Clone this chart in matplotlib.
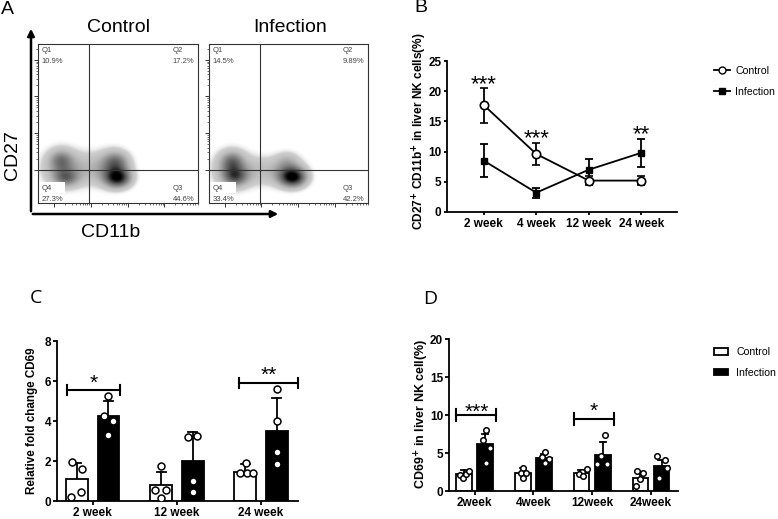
import numpy as np
import matplotlib
matplotlib.use("Agg")
import matplotlib.pyplot as plt
from matplotlib.patches import Rectangle, FancyArrowPatch
from matplotlib.lines import Line2D
from matplotlib.patches import Patch

plt.rcParams['font.family'] = ['Liberation Sans', 'DejaVu Sans']

W, H = 778, 519

# ---------------- Panel A data (flow density blobs: cx, cy, sx, sy, amp in axes fraction) -------------
flow_titles = ["Control", "Infection"]
ctrl_blobs = [(0.14, 0.22, 0.09, 0.09, 0.35),
              (0.31, 0.21, 0.09, 0.08, 0.22),
              (0.47, 0.22, 0.08, 0.08, 0.38),
              (0.50, 0.155, 0.058, 0.042, 0.75),
              (0.49, 0.26, 0.055, 0.045, 0.32),
              (0.175, 0.157, 0.055, 0.038, 0.40),
              (0.145, 0.27, 0.05, 0.045, 0.32)]
inf_blobs = [(0.14, 0.21, 0.09, 0.09, 0.35),
             (0.33, 0.20, 0.09, 0.07, 0.22),
             (0.50, 0.20, 0.08, 0.07, 0.32),
             (0.53, 0.16, 0.06, 0.043, 0.80),
             (0.49, 0.27, 0.05, 0.04, 0.14),
             (0.165, 0.165, 0.055, 0.042, 0.48),
             (0.145, 0.26, 0.05, 0.045, 0.37)]
ctrl_quads = ["10.9%", "17.2%", "44.6%", "27.3%"]
inf_quads = ["14.5%", "9.89%", "42.2%", "33.4%"]

# ---------------- Panel B data ----------------
weeks_B = ["2 week", "4 week", "12 week", "24 week"]
b_ctrl_mean = [17.7, 9.6, 5.2, 5.2]
b_ctrl_err = [2.9, 1.9, 0.7, 0.8]
b_inf_mean = [8.5, 3.2, 7.0, 9.8]
b_inf_err = [2.7, 0.8, 1.8, 2.35]
b_stars = ["***", "***", "", "**"]
b_star_y = [22.3, 13.3, 0, 14.0]

# ---------------- Panel C data ----------------
weeks_C = ["2 week", "12 week", "24 week"]
c_ctrl_mean = [1.1, 0.8, 1.47]
c_ctrl_err = [0.8, 0.63, 0.36]
c_inf_mean = [4.25, 2.0, 3.5]
c_inf_err = [0.75, 1.43, 1.65]
c_ctrl_pts = [[1.97, 1.6, 0.22, 0.47], [1.77, 0.55, 0.55, 0.13], [1.9, 1.4, 1.4, 1.4]]
c_inf_pts = [[5.27, 4.25, 4.0, 3.3], [3.18, 3.27, 1.0, 0.43], [5.58, 4.0, 2.43, 1.83]]
c_brackets = [(0, 5.55, "*", 6.2), (2, 5.88, "**", 6.6)]

# ---------------- Panel D data ----------------
weeks_D = ["2week", "4week", "12week", "24week"]
d_ctrl_mean = [2.24, 2.42, 2.33, 1.76]
d_ctrl_err = [0.5, 0.55, 0.4, 0.8]
d_inf_mean = [6.15, 4.3, 4.75, 3.34]
d_inf_err = [1.4, 0.6, 1.7, 0.8]
d_ctrl_pts = [[2.1, 1.7, 2.2, 2.7], [3.08, 2.42, 2.42, 1.76], [2.86, 2.55, 2.24, 1.98], [2.64, 2.42, 1.58, 0.66]]
d_inf_pts = [[8.0, 6.7, 5.7, 3.65], [5.1, 4.5, 4.2, 3.65], [7.38, 4.6, 3.5, 3.5], [4.6, 4.1, 3.0, 1.76]]
d_brackets = [(0, 10.0, "***", 11.2), (2, 9.45, "*", 11.3)]

# jitter layouts (x offsets of scatter dots inside bars)
c_ctrl_jit = [[-0.063, 0.063, -0.07, 0.05], [0.0, -0.07, 0.06, 0.0], [0.006, -0.062, 0.018, 0.093]]
c_inf_jit = [[0.0, -0.054, 0.057, 0.0], [-0.057, 0.05, 0.0, 0.0], [0, 0, 0, 0]]
d_ctrl_jit = [[-0.07, -0.01, 0.035, 0.085], [0.0, -0.035, 0.05, 0.0], [0.085, 0.0, -0.045, 0.03], [-0.065, 0.05, 0.0, -0.08]]
d_inf_jit = [[0.01, -0.035, 0.09, 0.02], [0.02, -0.035, 0.08, 0.02], [0.04, -0.03, -0.09, 0.07], [-0.07, 0.06, 0.09, -0.035]]

fig = plt.figure(figsize=(W / 100, H / 100), dpi=100)


def fbox(x0, y0, x1, y1):
    return [x0 / W, 1 - y1 / H, (x1 - x0) / W, (y1 - y0) / H]


def stars(ax, x, y, s, fs):
    # place the visual centre of the asterisk glyphs at (x, y)
    ax.annotate(s, (x, y), xytext=(0, -0.56 * fs), textcoords='offset points',
                ha='center', va='baseline', fontsize=fs, annotation_clip=False)


# ================= Panel A =================
def flow_panel(rect, blobs, quads):
    ax = fig.add_axes(rect)
    g = np.linspace(0, 1, 400)
    X, Y = np.meshgrid(g, g)
    Z = np.zeros_like(X)
    for cx, cy, sx, sy, a in blobs:
        Z += a * np.exp(-((X - cx) ** 2 / (2 * sx ** 2) + (Y - cy) ** 2 / (2 * sy ** 2)))
    edge = np.clip((Z - 0.06) / 0.10, 0, 1)
    V = edge * (0.24 + 0.76 * np.clip(Z, 0, 1) ** 1.4)
    ax.imshow(V, cmap='Greys', vmin=0, vmax=1.0, extent=(0, 1, 0, 1), origin='lower',
              interpolation='bilinear', aspect='auto', zorder=1)
    ax.add_patch(Rectangle((0, 0.063), 0.17, 0.067, color='white', zorder=2, lw=0))
    ax.axvline(0.32, color='#333333', lw=0.8, zorder=3)
    ax.axhline(0.21, color='#333333', lw=0.8, zorder=3)
    ax.set_xlim(0, 1)
    ax.set_ylim(0, 1)
    for s in ax.spines.values():
        s.set_color('#333333')
        s.set_linewidth(0.8)
    tc = '#444444'
    fs = 5.5
    ax.text(0.02, 0.956, "Q1", fontsize=fs, color=tc, va='center', zorder=4)
    ax.text(0.02, 0.887, quads[0], fontsize=fs, color=tc, va='center', zorder=4)
    ax.text(0.84, 0.956, "Q2", fontsize=fs, color=tc, va='center', zorder=4)
    ax.text(0.84, 0.887, quads[1], fontsize=fs, color=tc, va='center', zorder=4)
    ax.text(0.84, 0.094, "Q3", fontsize=fs, color=tc, va='center', zorder=4)
    ax.text(0.84, 0.025, quads[2], fontsize=fs, color=tc, va='center', zorder=4)
    ax.text(0.02, 0.094, "Q4", fontsize=fs, color=tc, va='center', zorder=4)
    ax.text(0.02, 0.025, quads[3], fontsize=fs, color=tc, va='center', zorder=4)
    # log-like tick marks
    ydec = [0.21, 0.44, 0.67, 0.90]
    xdec = [0.10, 0.33, 0.56, 0.79]
    ymin = [d + 0.23 * np.log10(k) for d in ydec for k in range(2, 10) if d + 0.23 * np.log10(k) < 1]
    xmin = [d + 0.23 * np.log10(k) for d in xdec for k in range(2, 10) if d + 0.23 * np.log10(k) < 1]
    ax.set_yticks(ydec)
    ax.set_xticks(xdec)
    ax.set_yticks(ymin, minor=True)
    ax.set_xticks(xmin, minor=True)
    ax.tick_params(which='major', length=3, width=0.7, color='#333333', labelleft=False, labelbottom=False)
    ax.tick_params(which='minor', length=1.5, width=0.5, color='#333333')
    return ax


flow_panel(fbox(38, 44, 198, 203), ctrl_blobs, ctrl_quads)
flow_panel(fbox(209, 44, 368, 203), inf_blobs, inf_quads)

fig.text(118 / W, 1 - 27 / H, flow_titles[0], ha='center', va='center', fontsize=14)
fig.text(290 / W, 1 - 27 / H, flow_titles[1], ha='center', va='center', fontsize=14)
fig.text(12 / W, 1 - 155 / H, "CD27", ha='center', va='center', rotation=90, fontsize=14)
fig.text(111 / W, 1 - 232 / H, "CD11b", ha='center', va='center', fontsize=14)
yb = 1 - 214 / H
fig.add_artist(FancyArrowPatch((31 / W, yb), (31 / W, 1 - 26 / H), transform=fig.transFigure,
                               arrowstyle='-|>', mutation_scale=10, lw=1.8, color='black'))
fig.add_artist(FancyArrowPatch((30 / W, yb), (281 / W, yb), transform=fig.transFigure,
                               arrowstyle='-|>', mutation_scale=10, lw=1.8, color='black'))

fig.text(7 / W, 1 - 9 / H, "A", ha='center', va='center', fontsize=14)
fig.text(421 / W, 1 - 8 / H, "B", ha='center', va='center', fontsize=14)
fig.text(36 / W, 1 - 298 / H, "C", ha='center', va='center', fontsize=14, family=['Open Sans', 'DejaVu Sans'])
fig.text(430 / W, 1 - 299 / H, "D", ha='center', va='center', fontsize=14, family=['Open Sans', 'DejaVu Sans'])


def style_axes(ax, pad=2, length=4):
    for s in ['top', 'right']:
        ax.spines[s].set_visible(False)
    for s in ['left', 'bottom']:
        ax.spines[s].set_linewidth(1.3)
    ax.tick_params(axis='both', length=length, width=1.3, labelsize=8.5, pad=pad)
    for lab in ax.get_xticklabels() + ax.get_yticklabels():
        lab.set_fontweight('bold')


# ================= Panel B =================
axB = fig.add_axes(fbox(447, 61, 677, 212))
xb = np.arange(len(weeks_B))
axB.errorbar(xb, b_inf_mean, yerr=b_inf_err, color='black', lw=1.3, elinewidth=1.3, capsize=3,
             capthick=1.3, marker='s', ms=5, mfc='black', mec='black', zorder=2)
axB.errorbar(xb, b_ctrl_mean, yerr=b_ctrl_err, color='black', lw=1.3, elinewidth=1.3, capsize=3,
             capthick=1.3, marker='o', ms=6, mfc='white', mec='black', mew=1.2, zorder=3)
for i, s in enumerate(b_stars):
    if s:
        stars(axB, xb[i], b_star_y[i], s, 16)
axB.set_xlim(-0.7, 3.68)
axB.set_ylim(0, 25)
axB.set_yticks([0, 5, 10, 15, 20, 25])
axB.set_xticks(xb)
axB.set_xticklabels(weeks_B)
style_axes(axB, pad=1.5, length=2.5)
fig.text(420 / W, 1 - 131 / H, r"CD27$^{\mathbf{+}}$ CD11b$^{\mathbf{+}}$ in liver NK cells(%)",
         rotation=90, ha='center', va='center', fontsize=8.6, fontweight='bold')
hB = [Line2D([0], [0], color='black', lw=1.3, marker='o', ms=5, mfc='white', mec='black'),
      Line2D([0], [0], color='black', lw=1.3, marker='s', ms=4.5, mfc='black')]
fig.legend(hB, ["Control", "Infection"], loc='upper left', bbox_to_anchor=(711 / W, 1 - 63 / H),
           frameon=False, fontsize=7.6, handlelength=1.5, labelspacing=1.0, handletextpad=0.5,
           borderaxespad=0, borderpad=0.3)


# ================= Bar panels =================
def bar_panel(ax, weeks, cm, ce, im, ie, cp, ip, cj, ij, off, bw, ms):
    x = np.arange(len(weeks))
    ax.bar(x - off, cm, width=bw, color='white', edgecolor='black', lw=1.3, zorder=2)
    ax.bar(x + off, im, width=bw, color='black', edgecolor='black', lw=1.3, zorder=2)
    for i in range(len(weeks)):
        ax.plot([x[i] - off, x[i] - off], [cm[i], cm[i] + ce[i]], color='black', lw=1.3, zorder=1)
        ax.plot([x[i] - off - bw * 0.2, x[i] - off + bw * 0.2], [cm[i] + ce[i]] * 2, color='black', lw=1.3, zorder=1)
        ax.plot([x[i] + off, x[i] + off], [im[i], im[i] + ie[i]], color='black', lw=1.3, zorder=1)
        ax.plot([x[i] + off - bw * 0.2, x[i] + off + bw * 0.2], [im[i] + ie[i]] * 2, color='black', lw=1.3, zorder=1)
        ax.plot(x[i] - off + np.array(cj[i]), cp[i], 'o', ms=ms, mfc='white', mec='black', mew=1.1, zorder=3)
        ax.plot(x[i] + off + np.array(ij[i]), ip[i], 'o', ms=ms, mfc='white', mec='black', mew=1.1, zorder=3)
    ax.set_xticks(x)
    ax.set_xticklabels(weeks)


def bracket(ax, x0, x1, y, cap, txt, ty, fs):
    ax.plot([x0, x1], [y, y], color='black', lw=1.5, clip_on=False)
    ax.plot([x0, x0], [y - cap, y + cap], color='black', lw=1.5, clip_on=False)
    ax.plot([x1, x1], [y - cap, y + cap], color='black', lw=1.5, clip_on=False)
    stars(ax, (x0 + x1) / 2, ty, txt, fs)


# ---- C ----
axC = fig.add_axes(fbox(57, 341, 298, 501))
bar_panel(axC, weeks_C, c_ctrl_mean, c_ctrl_err, c_inf_mean, c_inf_err, c_ctrl_pts, c_inf_pts,
          c_ctrl_jit, c_inf_jit, 0.187, 0.26, 5)
style_axes(axC, pad=1, length=3)
axC.set_xlim(-0.425, 2.44)
axC.set_ylim(0, 8)
axC.set_yticks([0, 2, 4, 6, 8])
for lab in axC.get_yticklabels():
    lab.set_fontweight('bold')
fig.text(32 / W, 1 - 421 / H, "Relative fold change CD69", rotation=90, ha='center', va='center',
         fontsize=8.4, fontweight='bold')
for g, y, s, ty in c_brackets:
    if g == 0:
        bracket(axC, g - 0.31, g + 0.325, y, 0.25, s, ty, 15)
    else:
        bracket(axC, g - 0.26, g + 0.44, y, 0.25, s, ty, 15)

# ---- D ----
axD = fig.add_axes(fbox(449.3, 339.3, 678, 491))
bar_panel(axD, weeks_D, d_ctrl_mean, d_ctrl_err, d_inf_mean, d_inf_err, d_ctrl_pts, d_inf_pts,
          d_ctrl_jit, d_inf_jit, 0.18, 0.265, 4)
style_axes(axD, pad=1.5, length=3)
axD.set_xlim(-0.43, 3.46)
axD.set_ylim(0, 20)
axD.set_yticks([0, 5, 10, 15, 20])
for lab in axD.get_yticklabels():
    lab.set_fontweight('bold')
fig.text(421.5 / W, 1 - 414 / H, r"CD69$^{\mathbf{+}}$ in liver NK cell(%)", rotation=90, ha='center',
         va='center', fontsize=9, fontweight='bold')
for g, y, s, ty in d_brackets:
    bracket(axD, g - 0.31, g + 0.37, y, 0.8, s, ty, 15)

hD = [Patch(facecolor='white', edgecolor='black', lw=1.3), Patch(facecolor='black', edgecolor='black', lw=1.3)]
fig.legend(hD, ["Control", "Infection"], loc='upper left', bbox_to_anchor=(711 / W, 1 - 344 / H),
           frameon=False, fontsize=7.6, handlelength=1.3, handleheight=0.55, labelspacing=1.0,
           handletextpad=0.8, borderaxespad=0, borderpad=0.3)

fig.savefig("out.png", dpi=100)
